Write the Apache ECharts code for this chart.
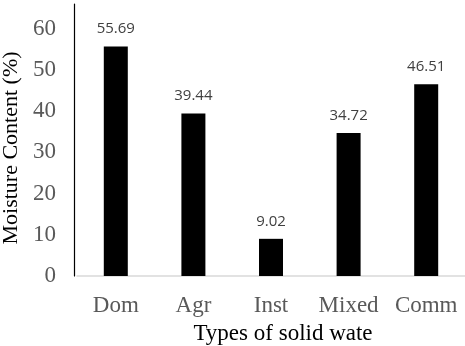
<!DOCTYPE html>
<html>
<head>
<meta charset="utf-8">
<script src="https://cdn.jsdelivr.net/npm/echarts@6/dist/echarts.min.js"></script>
<style>
  html, body { margin: 0; padding: 0; background: #fff; }
  #chart { width: 465px; height: 346px; }
</style>
</head>
<body>
<div id="chart"></div>
<script>
// 数据
var categories = ["Dom", "Agr", "Inst", "Mixed", "Comm"];
var moisture = [55.69, 39.44, 9.02, 34.72, 46.51];
var yTicks = [0, 10, 20, 30, 40, 50, 60];

var serif = "'Liberation Serif', 'DejaVu Serif', serif";

var myChart = echarts.init(document.getElementById("chart"));
myChart.setOption({
  animation: false,
  grid: { left: 77, right: 0, top: 4, bottom: 70, outerBoundsMode: "none" },
  xAxis: {
    type: "category",
    data: categories,
    name: "Types of solid wate",
    nameLocation: "middle",
    nameGap: 46,
    nameTextStyle: { fontFamily: serif, fontSize: 23, color: "#000", padding: [0, 0, 0, 24] },
    axisLine: { lineStyle: { color: "#d9d9d9", width: 1.5 } },
    axisTick: { show: false },
    axisLabel: { interval: 0, fontFamily: serif, fontSize: 23, color: "#595959", margin: 18 }
  },
  yAxis: {
    type: "value",
    min: 0,
    max: 66,
    interval: 10,
    offset: 3,
    name: "Moisture Content (%)",
    nameLocation: "middle",
    nameGap: 47,
    nameTextStyle: { fontFamily: serif, fontSize: 22, color: "#000", padding: [0, 16, 0, 0] },
    axisLine: { show: true, lineStyle: { color: "#000", width: 1.2 } },
    axisTick: { show: false },
    splitLine: { show: false },
    axisLabel: {
      fontFamily: serif,
      fontSize: 23,
      color: "#595959",
      margin: 18,
      showMaxLabel: false,
      formatter: function (v) { return yTicks.indexOf(v) >= 0 ? String(v) : ""; }
    }
  },
  series: [{
    type: "bar",
    data: moisture,
    barWidth: 24,
    itemStyle: { color: "#000" },
    label: {
      show: true,
      position: "top",
      distance: 10,
      fontFamily: "'Open Sans', 'Noto Sans', sans-serif",
      fontSize: 15,
      color: "#404040",
      formatter: function (p) { return p.value.toFixed(2); }
    }
  }]
});
</script>
</body>
</html>
